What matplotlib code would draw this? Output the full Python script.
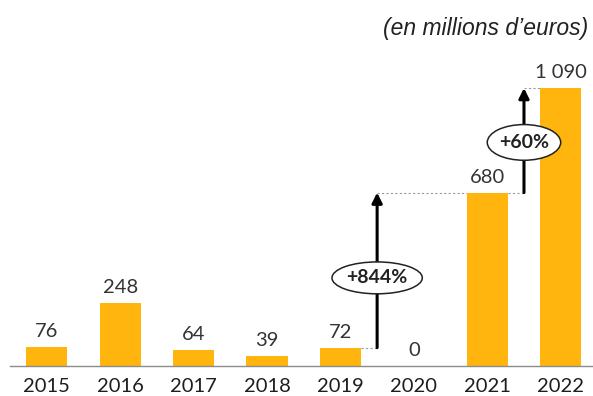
import matplotlib
matplotlib.use("Agg")
import matplotlib.pyplot as plt
from matplotlib.patches import Ellipse

# Montants annuels (en millions d'euros)
annees = ["2015", "2016", "2017", "2018", "2019", "2020", "2021", "2022"]
montants = [76, 248, 64, 39, 72, 0, 680, 1090]
etiquettes = ["76", "248", "64", "39", "72", "0", "680", "1 090"]

# Variations annotées : (indice départ, indice arrivée, texte)
variations = [(4, 6, "+844%"), (6, 7, "+60%")]

JAUNE = "#FFB50D"
GRIS = "#333333"

plt.rcParams["font.family"] = ["Lato", "DejaVu Sans"]

fig = plt.figure(figsize=(5.93, 3.96), dpi=100)
ax = fig.add_axes([10 / 593, 30 / 396, 583 / 593, 306 / 396])

x = list(range(len(annees)))
ax.bar(x, montants, width=0.56, color=JAUNE, zorder=2)

for xi, v, lab in zip(x, montants, etiquettes):
    ax.annotate(lab, (xi, v), xytext=(0, 5), textcoords="offset points",
                ha="center", va="bottom", fontsize=14.5, color=GRIS)

ax.set_xlim(-0.5, 7.44)
ax.set_ylim(0, 1200)

# Flèches de variation avec pointillés et ellipse
for i0, i1, txt in variations:
    xa = i0 + 0.5
    y0, y1 = montants[i0], montants[i1]
    ax.plot([i0 + 0.28, xa], [y0, y0], ls=(0, (2, 2)), lw=0.8,
            color="#999999", zorder=1)
    ax.plot([xa, i1 - 0.28], [y1, y1], ls=(0, (2, 2)), lw=0.8,
            color="#999999", zorder=1)
    ax.annotate("", xy=(xa, y1), xytext=(xa, y0),
                arrowprops=dict(arrowstyle="-|>,head_length=0.6,head_width=0.3",
                                lw=2.2, color="black", shrinkA=0, shrinkB=0),
                zorder=3)
    ym = y0 + (y1 - y0) * (0.45 if i1 - i0 > 1 else 0.48)
    w, h = (1.23, 125) if len(txt) > 4 else (1.0, 140)
    ax.add_patch(Ellipse((xa, ym), w, h, facecolor="white",
                         edgecolor="#222222", lw=1.1, zorder=4))
    ax.text(xa, ym, txt, ha="center", va="center", fontsize=14,
            fontweight="bold", color="#222222", zorder=5)

for s in ["top", "right", "left"]:
    ax.spines[s].set_visible(False)
ax.spines["bottom"].set_color("#8c8c8c")
ax.spines["bottom"].set_linewidth(1.0)
ax.set_yticks([])
ax.set_xticks(x)
ax.set_xticklabels(annees, fontsize=14.5, color="#1e1e1e")
ax.tick_params(axis="x", length=0, pad=9)

fig.text(588 / 593, 1 - 28 / 396, "(en millions d\u2019euros)",
         ha="right", va="center", fontsize=16.5, style="italic",
         family="Liberation Sans", color="#222222")

fig.savefig("out.png", dpi=100)
